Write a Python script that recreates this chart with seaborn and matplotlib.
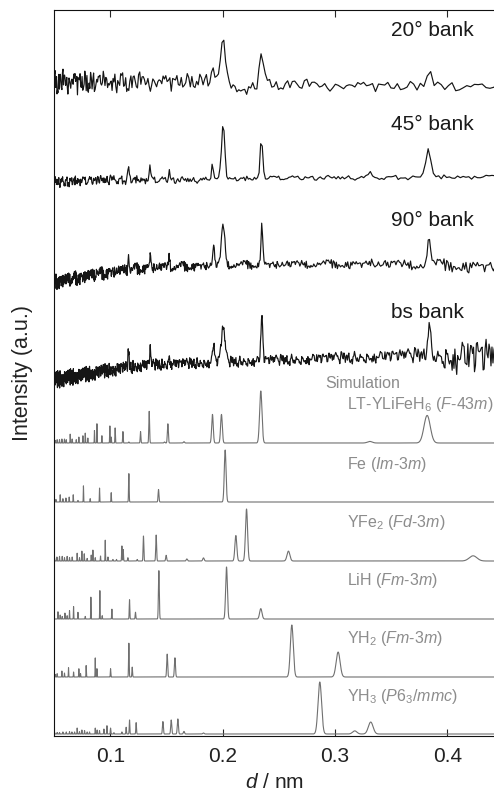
import numpy as np
import pandas as pd
import seaborn as sns
import matplotlib.pyplot as plt

# y values are in "plot units" (1 unit ~ 1 px of the original figure), stacked traces

# ---- simulated patterns: peak positions (nm), relative heights, vertical offset ----
LT_D = [0.0511, 0.0528, 0.0549, 0.0570, 0.0593, 0.0609, 0.0644, 0.0662, 0.0698, 0.0721,
        0.0757, 0.0778, 0.0801, 0.0860, 0.0882, 0.0926, 0.0997, 0.1009, 0.1044, 0.1113,
        0.1166, 0.1270, 0.1347, 0.1483, 0.1513, 0.1656, 0.1910, 0.1990, 0.2340, 0.3310, 0.3820]
LT_H = [0.05, 0.064, 0.064, 0.077, 0.077, 0.064, 0.17, 0.077, 0.064, 0.115,
        0.14, 0.19, 0.096, 0.24, 0.37, 0.14, 0.33, 0.115, 0.29, 0.22,
        0.02, 0.22, 0.61, 0.02, 0.37, 0.026, 0.55, 0.55, 1.0, 0.03, 0.53]

FE_D = [0.0517, 0.0555, 0.0579, 0.0606, 0.0635, 0.0671, 0.0713, 0.0762, 0.0822, 0.0905,
        0.1009, 0.1166, 0.1430, 0.2023]
FE_H = [0.05, 0.14, 0.064, 0.077, 0.096, 0.14, 0.03, 0.31, 0.064, 0.27,
        0.18, 0.545, 0.24, 1.0]

YFE2_D = [0.0505, 0.0526, 0.0549, 0.0573, 0.0593, 0.0617, 0.0638, 0.0662, 0.0706, 0.0727,
          0.0748, 0.0769, 0.0795, 0.0831, 0.0846, 0.0867, 0.0914, 0.0956, 0.0980, 0.1024,
          0.1056, 0.1104, 0.1116, 0.1157, 0.1240, 0.1296, 0.1409, 0.1498, 0.1682, 0.1830,
          0.2118, 0.2213, 0.2586, 0.4229]
YFE2_H = [0.05, 0.077, 0.09, 0.09, 0.064, 0.09, 0.064, 0.077, 0.15, 0.064,
          0.19, 0.14, 0.05, 0.115, 0.21, 0.064, 0.096, 0.40, 0.077, 0.03,
          0.03, 0.29, 0.22, 0.064, 0.03, 0.48, 0.50, 0.11, 0.04, 0.06,
          0.49, 1.0, 0.19, 0.10]

LIH_D = [0.0535, 0.0555, 0.0573, 0.0597, 0.0617, 0.0638, 0.0674, 0.0713, 0.0778, 0.0828,
         0.0908, 0.0929, 0.1015, 0.1172, 0.1225, 0.1433, 0.2035, 0.2340]
LIH_H = [0.14, 0.077, 0.05, 0.115, 0.064, 0.16, 0.24, 0.13, 0.05, 0.42,
         0.545, 0.064, 0.19, 0.37, 0.13, 0.93, 1.0, 0.20]

YH2_D = [0.0511, 0.0528, 0.0570, 0.0593, 0.0629, 0.0674, 0.0721, 0.0736, 0.0786, 0.0867,
         0.0882, 0.1003, 0.1166, 0.1196, 0.1507, 0.1576, 0.2616, 0.3028]
YH2_H = [0.05, 0.064, 0.115, 0.077, 0.18, 0.096, 0.16, 0.064, 0.22, 0.37,
         0.16, 0.16, 0.65, 0.19, 0.44, 0.37, 1.0, 0.48]

YH3_D = [0.0505, 0.0528, 0.0549, 0.0579, 0.0609, 0.0638, 0.0659, 0.0683, 0.0706, 0.0727,
         0.0748, 0.0772, 0.0795, 0.0816, 0.0867, 0.0884, 0.0905, 0.0944, 0.0971, 0.1003,
         0.1033, 0.1104, 0.1142, 0.1172, 0.1231, 0.1469, 0.1543, 0.1602, 0.1656, 0.1830,
         0.2865, 0.3176, 0.3318]
YH3_H = [0.03, 0.03, 0.03, 0.04, 0.04, 0.045, 0.04, 0.04, 0.115, 0.045,
         0.077, 0.064, 0.04, 0.04, 0.115, 0.077, 0.064, 0.096, 0.16, 0.115,
         0.026, 0.04, 0.13, 0.27, 0.22, 0.24, 0.27, 0.29, 0.05, 0.02,
         1.0, 0.06, 0.23]

SIM_NAMES = ['LT-YLiFeH$_6$ ($F$-43$m$)', 'Fe ($Im$-3$m$)', 'YFe$_2$ ($Fd$-3$m$)',
             'LiH ($Fm$-3$m$)', 'YH$_2$ ($Fm$-3$m$)', 'YH$_3$ ($P$6$_3$/$mmc$)']
SIM_OFFSETS = [293, 234, 175, 117, 59, 2]
SIM_LABEL_Y = [331, 271, 213, 156, 98, 39]
SIM_SCALE = 52

# ---- measured banks: peaks, background anchors, noise level anchors ----
B20_D = [0.191, 0.2005, 0.2346, 0.3837]
B20_H = [12, 45, 33, 18]
B20_W = [0.003, 0.0042, 0.0045, 0.006]
B20_BG_D = [0.05, 0.10, 0.15, 0.19, 0.20, 0.21, 0.22, 0.23, 0.25, 0.30, 0.35, 0.44]
B20_BG_Y = [654, 654, 654, 656, 656, 648, 646, 650, 652, 650, 650, 649]
B20_SD_D = [0.05, 0.10, 0.15, 0.20, 0.30, 0.44]
B20_SD = [6.0, 5.0, 4.2, 3.0, 2.5, 2.2]

B45_D = [0.0887, 0.1, 0.1163, 0.1353, 0.1525, 0.191, 0.2005, 0.2346, 0.331, 0.383]
B45_H = [5, 6, 13, 12, 9, 18, 56, 43, 4, 30]
B45_W = [0.001, 0.001, 0.0015, 0.0015, 0.0015, 0.002, 0.0035, 0.0025, 0.004, 0.005]
B45_BG_D = [0.05, 0.10, 0.18, 0.25, 0.44]
B45_BG_Y = [554, 556, 556, 558, 559]
B45_SD_D = [0.05, 0.10, 0.20, 0.44]
B45_SD = [2.5, 2.2, 1.2, 1.0]

B90_D = [0.088, 0.1163, 0.1356, 0.1525, 0.192, 0.2005, 0.2349, 0.331, 0.3837]
B90_H = [6, 17, 14, 12, 18, 40, 40, 3, 28]
B90_W = [0.001, 0.0012, 0.0012, 0.0012, 0.002, 0.0035, 0.002, 0.004, 0.003]
B90_BG_D = [0.05, 0.075, 0.10, 0.13, 0.20, 0.30, 0.40, 0.44]
B90_BG_Y = [454, 459, 464, 468, 471, 472, 471, 469]
B90_SD_D = [0.05, 0.15, 0.20, 0.30, 0.38, 0.44]
B90_SD = [3.5, 2.5, 2.0, 2.0, 2.5, 3.5]

BBS_D = [0.1163, 0.1356, 0.1525, 0.192, 0.2005, 0.2349, 0.3837]
BBS_H = [15, 15, 10, 18, 33, 43, 32]
BBS_W = [0.0012, 0.0012, 0.0012, 0.002, 0.004, 0.002, 0.003]
BBS_BG_D = [0.05, 0.075, 0.10, 0.13, 0.20, 0.30, 0.38, 0.44]
BBS_BG_Y = [356, 361, 366, 371, 374, 378, 381, 378]
BBS_SD_D = [0.05, 0.15, 0.25, 0.35, 0.39, 0.405, 0.44]
BBS_SD = [4.0, 2.5, 2.5, 3.0, 4.0, 8.0, 10.0]

# noise texture, estimated by eye (unit spread)
NOISE = [0.3, -1.2, 0.8, 1.5, -0.4, -1.8, 0.9, -0.2, 1.1, -0.9, 0.1, 2.0, -1.4, 0.6, -0.7,
         1.3, -2.1, 0.4, 0.9, -0.5, -1.1, 1.7, 0.2, -0.8, 1.0, -1.6, 0.5, -0.3, 1.4, -1.0,
         0.7, -2.3, 1.2, 0.0, -0.6, 1.9, -1.3, 0.3, 0.8, -1.5, 1.1, -0.1, -0.9, 1.6, -0.4,
         0.6, -1.9, 1.0, 0.2, -0.7, 2.2, -1.1, 0.4, -0.2, 1.3, -1.7, 0.9, -0.5, 0.1, 1.5,
         -1.2, -0.3, 0.7, -2.0, 1.1, 0.5, -0.8, 1.8, -0.6, 0.0, -1.4, 1.2, 0.3, -1.0, 0.8,
         -0.1, 1.6, -1.8, 0.6, -0.4, 1.0, -1.3, 2.1, -0.9, 0.2, -0.6, 1.4, -1.5, 0.4, 0.9,
         -2.2, 1.3, -0.2, 0.7, -1.1, 1.7, -0.7]

BANK_NAMES = ['20° bank', '45° bank', '90° bank', 'bs bank']
BANK_LABEL_Y = [706, 611, 516, 423]
BANK_STEP = [0.008, 0.006, 0.003, 0.002]   # relative bin width dd/d


def profile(x, pos, hgt, fwhm):
    y = np.zeros_like(x)
    for p, h, w in zip(pos, hgt, fwhm):
        s = w / 2.3548
        y += h * np.exp(-0.5 * ((x - p) / s) ** 2)
    return y


def measured(step, peaks, bg, sd, stride, off):
    n = int(np.log(0.445 / 0.049) / np.log(1 + step))
    x = np.geomspace(0.049, 0.445, n)
    idx = (np.arange(n) * stride + off) % len(NOISE)
    noise = np.array(NOISE)[idx] * np.interp(x, sd[0], sd[1])
    y = np.interp(x, bg[0], bg[1]) + profile(x, *peaks) + noise
    return pd.DataFrame({'d': x, 'I': y})


sns.set_style('ticks')
plt.rcParams['font.family'] = ['Liberation Sans', 'DejaVu Sans']
plt.rcParams['mathtext.fontset'] = 'custom'
plt.rcParams['mathtext.rm'] = 'Liberation Sans'
plt.rcParams['mathtext.it'] = 'Liberation Sans:italic'

fig = plt.figure(figsize=(4.94, 7.98), dpi=100)
ax = fig.add_axes([54 / 494, 62 / 798, 1 - 54 / 494, 726 / 798])

banks = [
    (B20_D, B20_H, B20_W, B20_BG_D, B20_BG_Y, B20_SD_D, B20_SD),
    (B45_D, B45_H, B45_W, B45_BG_D, B45_BG_Y, B45_SD_D, B45_SD),
    (B90_D, B90_H, B90_W, B90_BG_D, B90_BG_Y, B90_SD_D, B90_SD),
    (BBS_D, BBS_H, BBS_W, BBS_BG_D, BBS_BG_Y, BBS_SD_D, BBS_SD),
]
strides = [7, 11, 13, 17]
for k, b in enumerate(banks):
    df = measured(BANK_STEP[k], (b[0], b[1], b[2]), (b[3], b[4]), (b[5], b[6]), strides[k], 5 * k)
    sns.lineplot(data=df, x='d', y='I', ax=ax, color='#151515', lw=0.85, estimator=None, sort=False)
    ax.text(0.350, BANK_LABEL_Y[k], BANK_NAMES[k], fontsize=15, color='#1a1a1a', va='center', ha='left')

sims = [(LT_D, LT_H), (FE_D, FE_H), (YFE2_D, YFE2_H), (LIH_D, LIH_H), (YH2_D, YH2_H), (YH3_D, YH3_H)]
xs = np.arange(0.049, 0.446, 0.00004)
for k, (pos, hgt) in enumerate(sims):
    w = [max(0.045 * p ** 2, 0.00035) for p in pos]
    h = [v * SIM_SCALE for v in hgt]
    df = pd.DataFrame({'d': xs, 'I': SIM_OFFSETS[k] + profile(xs, pos, h, w)})
    sns.lineplot(data=df, x='d', y='I', ax=ax, color='#707070', lw=0.8, estimator=None, sort=False)
    ax.text(0.3107, SIM_LABEL_Y[k], SIM_NAMES[k], fontsize=11.5, color='#8c8c8c', va='center', ha='left')

ax.text(0.291, 353, 'Simulation', fontsize=11.5, color='#8c8c8c', va='center', ha='left')

ax.set_xlim(0.05, 0.4415)
ax.set_ylim(0, 726)
ax.set_xticks([0.1, 0.2, 0.3, 0.4])
ax.set_xticklabels(['0.1', '0.2', '0.3', '0.4'])
ax.set_yticks([])
ax.tick_params(axis='x', direction='in', top=True, bottom=True, length=5, width=0.8,
               labelsize=15, labelcolor='#222222', pad=8)
ax.spines['right'].set_visible(False)
for s in ['left', 'top', 'bottom']:
    ax.spines[s].set_linewidth(0.8)
    ax.spines[s].set_color('#111111')

ax.set_xlabel('$d$ / nm', fontsize=15, color='#222222')
ax.xaxis.set_label_coords(0.5, -0.051)
ax.set_ylabel('Intensity (a.u.)', fontsize=15.5, color='#222222')
ax.yaxis.set_label_coords(-0.048, 0.5)

fig.savefig('out.png', dpi=100)
